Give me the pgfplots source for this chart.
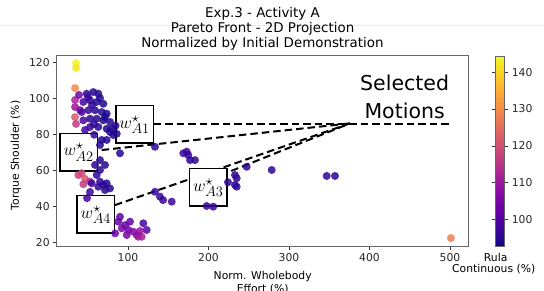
\documentclass[border=0pt]{standalone}
\usepackage{fontspec}
\setmainfont{DejaVu Sans}
\usepackage{pgfplots}
\usepackage{pgfplotstable}
\pgfplotsset{compat=1.18}
\pgfplotsset{colormap={plasma}{rgb255=(13,8,135) rgb255=(65,4,157) rgb255=(106,0,168) rgb255=(143,13,164) rgb255=(177,42,144) rgb255=(204,71,120) rgb255=(225,100,98) rgb255=(242,132,75) rgb255=(252,166,54) rgb255=(252,206,37) rgb255=(240,249,33)}}

\pgfplotstableread{
x y c
35.4 119.8 144
35.4 117.1 142
34.2 105.9 130
34.2 99.3 112
34.2 95.4 110
34.2 89.8 122
35.4 86.0 116
39.1 102.1 104
40.4 93.7 106
48.7 102.8 96
56.9 103.7 95
63.1 102.8 95
44.5 98.2 98
52.8 99.1 96
61.1 98.2 95
69.3 97.2 94
42.5 92.6 99
50.7 93.6 97
59.0 93.6 95
67.3 92.6 95
73.5 91.7 94
44.5 88.0 99
52.8 88.9 96
61.1 88.9 95
69.3 88.0 94
77.6 87.1 95
52.8 84.3 97
63.1 84.3 95
73.5 83.3 94
79.7 83.3 94
77.6 81.5 95
81.7 79.8 94
67.3 77.1 95
73.5 77.1 95
65.2 74.3 95
46.6 82.6 98
55.3 96.5 96
65.2 100.4 95
57.8 85.9 96
71.4 89.8 94
50.3 100.9 97
84.5 85.0 95
86.0 80.5 95
58.0 80.0 96
90.0 69.7 95
65.2 65.9 95
59.0 63.2 96
71.4 63.2 95
65.2 60.4 95
61.1 57.6 96
38.3 57.6 117
42.5 58.6 119
46.6 55.5 121
52.8 54.0 114
44.5 52.5 116
54.9 53.0 97
65.2 53.9 96
69.3 52.1 95
73.5 53.0 95
63.1 51.1 96
77.6 50.2 95
71.4 49.3 95
52.8 48.2 97
49.1 44.8 98
90.0 34.4 101
87.9 31.7 102
96.3 29.8 103
102.5 31.7 102
92.2 28.0 105
100.4 27.1 104
106.6 26.1 106
110.8 24.3 108
112.8 23.3 110
123.2 27.1 100
119.0 30.8 99
84.0 25.2 103
98.4 24.3 105
117.0 23.3 112
114.8 26.5 109
133.5 73.3 96
172.9 70.6 97
168.7 69.7 97
174.9 68.7 97
177.0 65.9 96
183.2 65.9 96
133.5 48.3 97
139.7 45.6 97
143.5 43.7 97
154.3 42.8 97
232.9 57.6 96
235.0 55.8 96
232.9 52.1 96
235.0 51.1 96
247.4 62.2 96
278.5 60.4 96
346.8 57.1 96
357.1 57.1 96
197.7 40.4 97
205.9 40.0 97
224.2 53.6 96
501.1 22.6 128
}\pts

\begin{document}
\begin{tikzpicture}[font=\fontsize{10.8}{13}\selectfont]
\draw[gray!15, line width=0.6pt] (-56.7pt,221.5pt) -- (487.3pt,221.5pt);
\begin{axis}[
  at={(0pt,0pt)}, anchor=south west, scale only axis,
  width=411.6pt, height=191.5pt,
  xmin=11.4, xmax=522.7, ymin=17.9, ymax=124.3,
  xtick={100,200,300,400,500}, ytick={20,40,60,80,100,120},
  tick align=outside, tick pos=left, major tick length=3.5pt,
  axis line style={draw=black!60, line width=0.8pt},
  every tick/.style={black!80, line width=0.7pt},
  ticklabel style={font=\fontsize{10.8}{13}\selectfont, text=black!85},
  /pgf/number format/assume math mode=true,
  clip=true,
  colormap name=plasma, point meta min=92.7, point meta max=144.4,
  colorbar,
  colorbar style={
    at={(parent axis.south east)}, anchor=south west, xshift=19pt,
    scale only axis, width=9pt, height=190.5pt,
    ytick={100,110,120,130,140},
    tick align=outside, major tick length=3.5pt,
    axis line style={draw=black!60, line width=0.8pt},
    every tick/.style={black!80, line width=0.7pt},
    yticklabel style={font=\fontsize{10.8}{13}\selectfont, text=black!85},
    /pgf/number format/assume math mode=true,
  },
]
\addplot[scatter, only marks, mark=*, mark size=4pt, scatter src=explicit,
  mark options={fill opacity=0.85, draw opacity=0},
  scatter/use mapped color={draw=mapped color, fill=mapped color}]
  table[x=x, y=y, meta=c]{\pts};
\addplot[black, line width=2pt, dash pattern=on 7.5pt off 4pt] coordinates {(132,85.9) (502.4,85.9)};
\addplot[black, line width=2pt, dash pattern=on 7.5pt off 4pt] coordinates {(67.3,71.5) (375.7,86.3)};
\addplot[black, line width=2pt, dash pattern=on 7.5pt off 4pt] coordinates {(83.8,40.9) (375.7,86.3)};
\addplot[black, line width=2pt, dash pattern=on 7.5pt off 4pt] coordinates {(215,57.5) (375.7,86.3)};
\node[draw, fill=white, line width=1.5pt, minimum width=37.5pt, minimum height=37.5pt, inner sep=0pt, font=\fontsize{19}{20}\selectfont] at (axis cs:108.1,85.7) {$w^\star_{A1}$};
\node[draw, fill=white, line width=1.5pt, minimum width=37.5pt, minimum height=37.5pt, inner sep=0pt, font=\fontsize{19}{20}\selectfont] at (axis cs:38.7,70.4) {$w^\star_{A2}$};
\node[draw, fill=white, line width=1.5pt, minimum width=37.5pt, minimum height=37.5pt, inner sep=0pt, font=\fontsize{19}{20}\selectfont] at (axis cs:199.7,50.7) {$w^\star_{A3}$};
\node[draw, fill=white, line width=1.5pt, minimum width=37.5pt, minimum height=37.5pt, inner sep=0pt, font=\fontsize{19}{20}\selectfont] at (axis cs:60,35.7) {$w^\star_{A4}$};
\node[align=center, font=\fontsize{20.5}{28.3}\selectfont] at (axis cs:443.6,101.1) {Selected\\Motions};
\end{axis}
\begin{scope}[font=\fontsize{13.4}{15}\selectfont]
\node[anchor=base] at (205.8pt,228.5pt) {Exp.3 - Activity A};
\node[anchor=base] at (205.8pt,213.5pt) {Pareto Front - 2D Projection};
\node[anchor=base] at (205.8pt,198.5pt) {Normalized by Initial Demonstration};
\end{scope}
\node[anchor=base] at (206pt,-33pt) {Norm. Wholebody};
\node[anchor=base] at (206pt,-46.5pt) {Effort (\%)};
\node[rotate=90] at (-40.7pt,91pt) {Torque Shoulder (\%)};
\node[anchor=base] at (439pt,-14.8pt) {Rula};
\node[anchor=base] at (437pt,-26pt) {Continuous (\%)};
\pgfresetboundingbox
\path[use as bounding box] (-56.7pt,-44.5pt) rectangle (487.3pt,246.5pt);
\end{tikzpicture}
\end{document}
